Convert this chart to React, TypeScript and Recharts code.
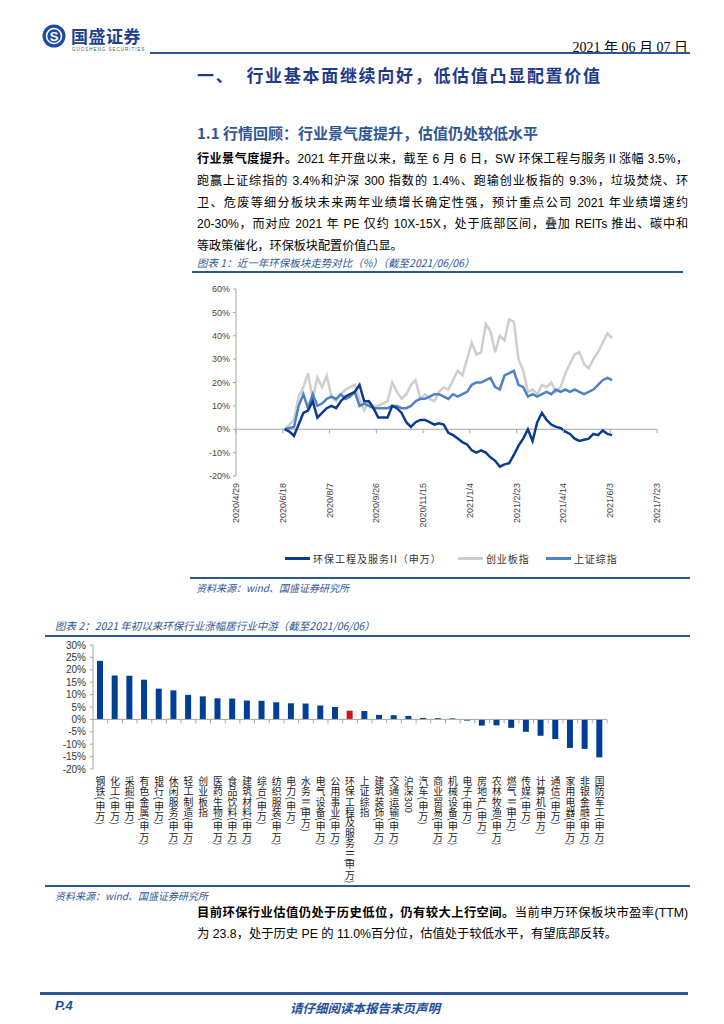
import React from "react";
import {
  LineChart,
  Line,
  XAxis,
  YAxis,
  ReferenceLine,
  Legend,
  BarChart,
  Bar,
  Cell,
} from "recharts";

// ---- chart 1: 近一年环保板块走势对比 (days counted from 2020/4/29) ----
const TICK_DAYS = [0, 50, 100, 150, 200, 250, 300, 350, 400, 450];
const TICK_LABELS = [
  "2020/4/29", "2020/6/18", "2020/8/7", "2020/9/26", "2020/11/15",
  "2021/1/4", "2021/2/23", "2021/4/14", "2021/6/3", "2021/7/23",
];
const trendDays = [
  52, 57, 62, 67, 72, 77, 82, 87, 92, 97,
  102, 107, 112, 117, 122, 127, 132, 137, 142, 147,
  152, 157, 162, 167, 172, 177, 182, 187, 192, 197,
  202, 207, 212, 217, 222, 227, 232, 237, 242, 247,
  252, 257, 262, 267, 272, 277, 282, 287, 292, 297,
  302, 307, 312, 317, 322, 327, 332, 337, 342, 347,
  352, 357, 362, 367, 372, 377, 382, 387, 392, 397,
  402,
];
// 环保工程及服务II(申万)
const envSeries = [
  0, -1, -2.8, 2, 7, 8, 12, 5, 7, 9,
  10, 9, 12, 14, 15, 16, 19, 12, 12, 9,
  5, 5, 5, 10, 9, 7, 3, 1, 3, 4,
  4, 3, 2, 2.5, 2, -1.5, -2.5, -4, -5.5, -6.5,
  -9, -10, -9, -10, -12, -13.5, -16, -15, -14.5, -11,
  -7, -4, 0, -5, 3, 7, 4, 2, 1, 0.5,
  -1, -2, -4, -5, -4.5, -4, -2, -2.5, -0.5, -2,
  -2.5,
];
// 创业板指
const gemSeries = [
  0, 2, 4, 14, 18, 24, 13, 22, 18, 23,
  14, 12, 15, 17, 18, 19, 13, 8, 12, 10,
  10, 11, 12, 20, 16, 13, 15, 19, 21, 13,
  15, 13, 12, 16, 18, 17, 21, 25, 23, 30,
  37, 32, 33, 45, 42, 33, 40, 38, 47, 46,
  30, 25, 16, 17, 15, 19, 18, 20, 16, 18,
  24, 28, 32, 33, 28, 26, 30, 33, 37, 41,
  39,
];
// 上证综指
const shSeries = [
  0, 0.5, 1, 10, 15, 9, 15, 10, 11, 13,
  14, 13, 15, 13, 14, 16, 10, 11, 10, 9,
  9, 9, 9, 10, 10, 9, 9, 10, 12, 13,
  13, 14, 15, 15, 14, 13, 15, 14, 15, 16,
  19, 20, 20, 21, 22, 18, 17, 23, 24, 25,
  19, 18, 14, 15, 14, 15, 16, 15, 17, 16,
  17, 16, 17, 16, 15, 16, 17, 19, 21, 22,
  21,
];
const TREND_TICKS = [-20, -10, 0, 10, 20, 30, 40, 50, 60];

// ---- chart 2: 2021年初以来涨跌幅 ----
const sectors = [
  "钢铁(申万)", "化工(申万)", "采掘(申万)", "有色金属(申万)", "银行(申万)",
  "休闲服务(申万)", "轻工制造(申万)", "创业板指", "医药生物(申万)", "食品饮料(申万)",
  "建筑材料(申万)", "综合(申万)", "纺织服装(申万)", "电力(申万)", "水务Ⅱ(申万)",
  "电气设备(申万)", "公用事业(申万)", "环保工程及服务Ⅱ(申万)", "上证综指", "建筑装饰(申万)",
  "交通运输(申万)", "沪深300", "汽车(申万)", "商业贸易(申万)", "机械设备(申万)",
  "电子(申万)", "房地产(申万)", "农林牧渔(申万)", "燃气Ⅱ(申万)", "传媒(申万)",
  "计算机(申万)", "通信(申万)", "家用电器(申万)", "非银金融(申万)", "国防军工(申万)",
];
const sectorReturns = [
  23.6, 17.7, 17.6, 16.0, 12.4,
  11.7, 9.9, 9.3, 8.5, 8.4,
  7.6, 7.5, 6.9, 6.5, 6.4,
  5.6, 5.0, 3.5, 3.4, 1.8,
  1.7, 1.4, 0.6, 0.5, 0.4,
  -0.5, -2.5, -2.4, -3.4, -5.0,
  -6.6, -7.9, -11.5, -11.9, -15.3,
];
const HIGHLIGHT = "环保工程及服务Ⅱ(申万)";
const RETURN_TICKS = [-20, -15, -10, -5, 0, 5, 10, 15, 20, 25, 30];

const ENV_COLOR = "#0b3a8e";
const SH_COLOR = "#4f80c8";
const GEM_COLOR = "#cecece";
const BAR_BLUE = "#003f94";
const BAR_RED = "#d0101b";
const CAP_BLUE = "#2f5597";
const HEAD_BLUE = "#1f3a8a";
const AXIS_GREY = "#a6a6a6";

const CJK = '"Noto Sans CJK SC", sans-serif';
const SERIF = '"Liberation Serif", "Noto Sans CJK SC", serif';
const BODY = '"Liberation Sans Narrow", "Liberation Sans", "Noto Sans CJK SC", sans-serif';
const ARIAL = '"Liberation Sans", Arial, sans-serif';

// layout of the two plots
const C1 = { w: 490, h: 300, top: 9, right: 13, yw: 56, xh: 104 };
const C1_PLOT_H = C1.h - C1.top - C1.xh;
const C2 = { w: 580, h: 250, top: 7, right: 13, yw: 53, xh: 119 };
const C2_PLOT_H = C2.h - C2.top - C2.xh;
const C2_BAND = (C2.w - C2.yw - C2.right) / sectors.length;

function DateTick(props: any) {
  const { x, y, payload } = props;
  const idx = TICK_DAYS.indexOf(payload.value);
  const zeroY = y - (20 / 80) * C1_PLOT_H;
  return (
    <g>
      <line x1={x} x2={x} y1={zeroY} y2={zeroY + 4} stroke={AXIS_GREY} />
      <text
        transform={`translate(${x},${y + 7}) rotate(-90)`}
        textAnchor="end"
        dominantBaseline="central"
        fontSize={9}
        fontFamily={ARIAL}
        fill="#444"
      >
        {TICK_LABELS[idx]}
      </text>
    </g>
  );
}

const isUpright = (ch: string) => /[\u4e00-\u9fff]/.test(ch);
const runLength = (run: string) =>
  Array.from(run).reduce((s, c) => s + (c === "Ⅱ" ? 7 : c === "(" || c === ")" ? 4.2 : 5.6), 0);

function SectorTick(props: any) {
  const { x, y, payload } = props;
  const chars = Array.from(String(payload.value));
  const zeroY = y - (20 / 50) * C2_PLOT_H;
  const nodes: React.ReactNode[] = [];
  let cy = y + 7;
  let i = 0;
  while (i < chars.length) {
    if (isUpright(chars[i])) {
      nodes.push(
        <text key={i} x={x} y={cy + 5} textAnchor="middle" dominantBaseline="central">
          {chars[i]}
        </text>
      );
      cy += 10.3;
      i++;
    } else {
      let run = "";
      const k = i;
      while (i < chars.length && !isUpright(chars[i])) {
        run += chars[i];
        i++;
      }
      nodes.push(
        <text key={"r" + k} transform={`translate(${x},${cy}) rotate(90)`} dominantBaseline="central">
          {run}
        </text>
      );
      cy += runLength(run);
    }
  }
  return (
    <g>
      <line
        x1={x + C2_BAND / 2}
        x2={x + C2_BAND / 2}
        y1={zeroY}
        y2={zeroY + 4}
        stroke={AXIS_GREY}
      />
      <g fontSize={9.8} fontFamily={CJK} fill="#222">
        {nodes}
      </g>
    </g>
  );
}

const legendItems = [
  { label: "环保工程及服务II（申万）", color: ENV_COLOR },
  { label: "创业板指", color: GEM_COLOR },
  { label: "上证综指", color: SH_COLOR },
];

function TrendLegend() {
  return (
    <div style={{ display: "flex", alignItems: "center", paddingLeft: 105, height: 16 }}>
      {legendItems.map((it) => (
        <div key={it.label} style={{ display: "flex", alignItems: "center", marginRight: 16 }}>
          <span style={{ width: 25, height: 3, background: it.color, marginRight: 3 }} />
          <span style={{ fontSize: 10, fontFamily: CJK, color: "#333", letterSpacing: 1 }}>
            {it.label}
          </span>
        </div>
      ))}
    </div>
  );
}

function TrendChart() {
  const data = trendDays.map((d, i) => ({
    day: d,
    env: envSeries[i],
    gem: gemSeries[i],
    sh: shSeries[i],
  }));
  return (
    <LineChart
      width={C1.w}
      height={C1.h}
      data={data}
      margin={{ top: C1.top, right: C1.right, left: 0, bottom: 0 }}
    >
      <XAxis
        type="number"
        dataKey="day"
        domain={[0, 450]}
        ticks={TICK_DAYS}
        interval={0}
        height={C1.xh}
        axisLine={false}
        tickLine={false}
        tickSize={0}
        tickMargin={0}
        tick={<DateTick />}
      />
      <YAxis
        domain={[-20, 60]}
        ticks={TREND_TICKS}
        interval={0}
        width={C1.yw}
        axisLine={{ stroke: AXIS_GREY }}
        tickLine={{ stroke: AXIS_GREY }}
        tickSize={3}
        tickMargin={3}
        tickFormatter={(v: number) => `${v}%`}
        tick={{ fontSize: 9, fontFamily: ARIAL, fill: "#444" }}
      />
      <ReferenceLine y={0} stroke={AXIS_GREY} />
      <Line dataKey="gem" stroke={GEM_COLOR} strokeWidth={2.5} dot={false} isAnimationActive={false} />
      <Line dataKey="sh" stroke={SH_COLOR} strokeWidth={2.5} dot={false} isAnimationActive={false} />
      <Line dataKey="env" stroke={ENV_COLOR} strokeWidth={2.5} dot={false} isAnimationActive={false} />
      <Legend
        layout="horizontal"
        verticalAlign="middle"
        align="center"
        wrapperStyle={{ top: 270, left: 0, width: C1.w, height: 16 }}
        content={() => <TrendLegend />}
      />
    </LineChart>
  );
}

function SectorChart() {
  const data = sectors.map((name, i) => ({ name, value: sectorReturns[i] }));
  return (
    <BarChart
      width={C2.w}
      height={C2.h}
      data={data}
      margin={{ top: C2.top, right: C2.right, left: 0, bottom: 0 }}
      barSize={6}
    >
      <XAxis
        dataKey="name"
        interval={0}
        height={C2.xh}
        axisLine={false}
        tickLine={false}
        tickSize={0}
        tickMargin={0}
        tick={<SectorTick />}
      />
      <YAxis
        domain={[-20, 30]}
        ticks={RETURN_TICKS}
        interval={0}
        width={C2.yw}
        axisLine={{ stroke: AXIS_GREY }}
        tickLine={{ stroke: AXIS_GREY }}
        tickSize={3}
        tickMargin={4}
        tickFormatter={(v: number) => `${v}%`}
        tick={{ fontSize: 10, fontFamily: ARIAL, fill: "#333" }}
      />
      <ReferenceLine y={0} stroke={AXIS_GREY} />
      <Bar dataKey="value" isAnimationActive={false}>
        {data.map((d) => (
          <Cell key={d.name} fill={d.name === HIGHLIGHT ? BAR_RED : BAR_BLUE} />
        ))}
      </Bar>
    </BarChart>
  );
}

const abs = (left: number, top: number, extra: React.CSSProperties = {}): React.CSSProperties => ({
  position: "absolute",
  left,
  top,
  whiteSpace: "nowrap",
  ...extra,
});

const hr = (left: number, top: number, width: number, h = 1.5) => (
  <div style={{ position: "absolute", left, top, width, height: h, background: CAP_BLUE }} />
);

const paraLines = [
  "2021 年开盘以来，截至 6 月 6 日，SW 环保工程与服务Ⅱ涨幅 3.5%，",
  "跑赢上证综指的 3.4%和沪深 300 指数的 1.4%、跑输创业板指的 9.3%，垃圾焚烧、环",
  "卫、危废等细分板块未来两年业绩增长确定性强，预计重点公司 2021 年业绩增速约",
  "20-30%，而对应 2021 年 PE 仅约 10X-15X，处于底部区间，叠加 REITs 推出、碳中和",
  "等政策催化，环保板块配置价值凸显。",
];

const justify: React.CSSProperties = { textAlign: "justify", textAlignLast: "justify", width: 491 };

export default function App() {
  return (
    <div
      style={{
        position: "absolute",
        left: 0,
        top: 0,
        width: 724,
        height: 1024,
        background: "#fff",
        fontFamily: BODY,
        color: "#000",
      }}
    >
      {/* header */}
      <svg style={{ position: "absolute", left: 42, top: 24 }} width={24} height={24}>
        <circle cx={12} cy={12} r={11.5} fill="#1c4da1" />
        <circle cx={12} cy={12} r={7.5} fill="none" stroke="#fff" strokeWidth={1.6} />
        <text x={12} y={16.5} textAnchor="middle" fontSize={13} fontWeight="bold" fill="#fff" fontFamily={ARIAL}>
          S
        </text>
      </svg>
      <div
        style={abs(71, 27, {
          fontFamily: CJK,
          fontWeight: 700,
          fontSize: 17,
          lineHeight: "18px",
          color: "#1c3f8f",
          letterSpacing: 0.5,
        })}
      >
        国盛证券
      </div>
      <div style={abs(72, 47, { fontFamily: ARIAL, fontSize: 4.5, lineHeight: "5px", color: "#555", letterSpacing: 1 })}>
        GUOSHENG SECURITIES
      </div>
      <div style={{ position: "absolute", right: 36, top: 36, whiteSpace: "nowrap", fontFamily: SERIF, fontSize: 14 }}>
        2021 年 06 月 07 日
      </div>
      {hr(150, 52, 540, 2)}

      <div style={abs(197, 62, { fontFamily: CJK, fontWeight: 700, fontSize: 17, color: HEAD_BLUE, letterSpacing: 1.7 })}>
        一、<span style={{ marginLeft: 12 }}>行业基本面继续向好，低估值凸显配置价值</span>
      </div>
      <div style={abs(197, 122, { fontFamily: CJK, fontWeight: 700, fontSize: 15, color: CAP_BLUE })}>
        1.1 行情回顾：行业景气度提升，估值仍处较低水平
      </div>

      <div style={{ position: "absolute", left: 197, top: 147, fontSize: 12.1, lineHeight: "21.8px" }}>
        {paraLines.map((l, i) => (
          <div key={i} style={i < paraLines.length - 1 ? justify : { width: 491 }}>
            {i === 0 && <b style={{ fontFamily: CJK }}>行业景气度提升。</b>}
            {l}
          </div>
        ))}
      </div>

      {/* chart 1 */}
      <div style={abs(197, 255, { fontFamily: CJK, fontStyle: "italic", fontSize: 10.5, color: CAP_BLUE })}>
        图表 1：近一年环保板块走势对比（%）（截至2021/06/06）
      </div>
      {hr(192, 271, 491)}
      <div style={{ position: "absolute", left: 180, top: 280 }}>
        <TrendChart />
      </div>
      {hr(190, 577, 500)}
      <div style={abs(196, 580, { fontFamily: CJK, fontStyle: "italic", fontSize: 10, color: CAP_BLUE })}>
        资料来源：wind、国盛证券研究所
      </div>

      {/* chart 2 */}
      <div style={abs(55, 618, { fontFamily: CJK, fontStyle: "italic", fontSize: 10.5, color: CAP_BLUE })}>
        图表 2：2021 年初以来环保行业涨幅居行业中游（截至2021/06/06）
      </div>
      {hr(45, 635, 645)}
      <div style={{ position: "absolute", left: 40, top: 638 }}>
        <SectorChart />
      </div>
      {hr(45, 885, 645)}
      <div style={abs(55, 888, { fontFamily: CJK, fontStyle: "italic", fontSize: 10, color: CAP_BLUE })}>
        资料来源：wind、国盛证券研究所
      </div>

      <div style={{ position: "absolute", left: 197, top: 902, fontSize: 12.3, lineHeight: "21px" }}>
        <div style={justify}>
          <b style={{ fontFamily: CJK }}>目前环保行业估值仍处于历史低位，仍有较大上行空间。</b>
          当前申万环保板块市盈率(TTM)
        </div>
        <div>为 23.8，处于历史 PE 的 11.0%百分位，估值处于较低水平，有望底部反转。</div>
      </div>

      {/* footer */}
      {hr(40, 992, 648, 2.5)}
      <div style={abs(55, 998, { fontFamily: ARIAL, fontWeight: 700, fontStyle: "italic", fontSize: 13, color: "#1f4e9a" })}>
        P.4
      </div>
      <div style={abs(290, 998, { fontFamily: CJK, fontWeight: 700, fontStyle: "italic", fontSize: 12.5, color: "#1f4e9a" })}>
        请仔细阅读本报告末页声明
      </div>
    </div>
  );
}
